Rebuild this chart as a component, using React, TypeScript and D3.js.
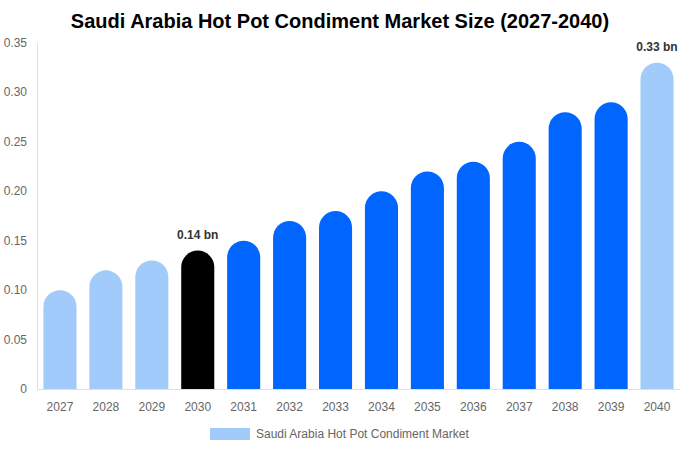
import React from 'react';
import { scaleBand, scaleLinear } from 'd3';

const years = ['2027', '2028', '2029', '2030', '2031', '2032', '2033', '2034', '2035', '2036', '2037', '2038', '2039', '2040'];
const values = [0.10, 0.12, 0.13, 0.14, 0.15, 0.17, 0.18, 0.20, 0.22, 0.23, 0.25, 0.28, 0.29, 0.33];
const yTicks = [0, 0.05, 0.1, 0.15, 0.2, 0.25, 0.3, 0.35];
const labelled = ['2030', '2040'];

const LIGHT = '#a0cbfb';
const BLUE = '#0066ff';
const colorFor = (year: string) => {
  if (year === '2030') return '#000000';
  if (['2027', '2028', '2029', '2040'].includes(year)) return LIGHT;
  return BLUE;
};

const W = 680, H = 450;
const margin = { top: 43, right: 0, bottom: 61, left: 37 };

export default function App() {
  const x = scaleBand().domain(years).range([margin.left, W - margin.right]).paddingInner(0.28).paddingOuter(0.14);
  const y = scaleLinear().domain([0, 0.35]).range([H - margin.bottom, margin.top]);
  const bw = x.bandwidth();
  const r = bw / 2;
  const font = '"Liberation Sans", Arial, sans-serif';

  const barPath = (year: string, v: number) => {
    const x0 = x(year)!;
    const top = y(v);
    const bottom = y(0);
    return `M${x0},${bottom} L${x0},${top + r} A${r},${r} 0 0 1 ${x0 + bw},${top + r} L${x0 + bw},${bottom} Z`;
  };

  return (
    <svg width={W} height={H} style={{ position: 'absolute', left: 0, top: 0 }} fontFamily={font}>
      <text x={W / 2} y={28} textAnchor="middle" fontSize={20} fontWeight="bold" fill="#000">
        Saudi Arabia Hot Pot Condiment Market Size (2027-2040)
      </text>
      <line x1={margin.left + 0.5} x2={margin.left + 0.5} y1={margin.top} y2={y(0)} stroke="#e0e0e0" />
      <line x1={margin.left} x2={W} y1={y(0) + 0.5} y2={y(0) + 0.5} stroke="#e0e0e0" />
      {yTicks.map((t) => (
        <text key={t} x={27} y={y(t) + 4} textAnchor="end" fontSize={12} fill="#666">
          {t === 0 ? '0' : t.toFixed(2)}
        </text>
      ))}
      {years.map((yr, i) => (
        <g key={yr}>
          <path d={barPath(yr, values[i])} fill={colorFor(yr)} />
          <text x={x(yr)! + bw / 2} y={411} textAnchor="middle" fontSize={12} fill="#666">{yr}</text>
          {labelled.includes(yr) && (
            <text x={x(yr)! + bw / 2} y={y(values[i]) - 12} textAnchor="middle" fontSize={12} fontWeight="bold" fill="#333">
              {values[i].toFixed(2)} bn
            </text>
          )}
        </g>
      ))}
      <rect x={210} y={428} width={40} height={12} fill={LIGHT} />
      <text x={256} y={438} fontSize={12} fill="#666">Saudi Arabia Hot Pot Condiment Market</text>
    </svg>
  );
}
